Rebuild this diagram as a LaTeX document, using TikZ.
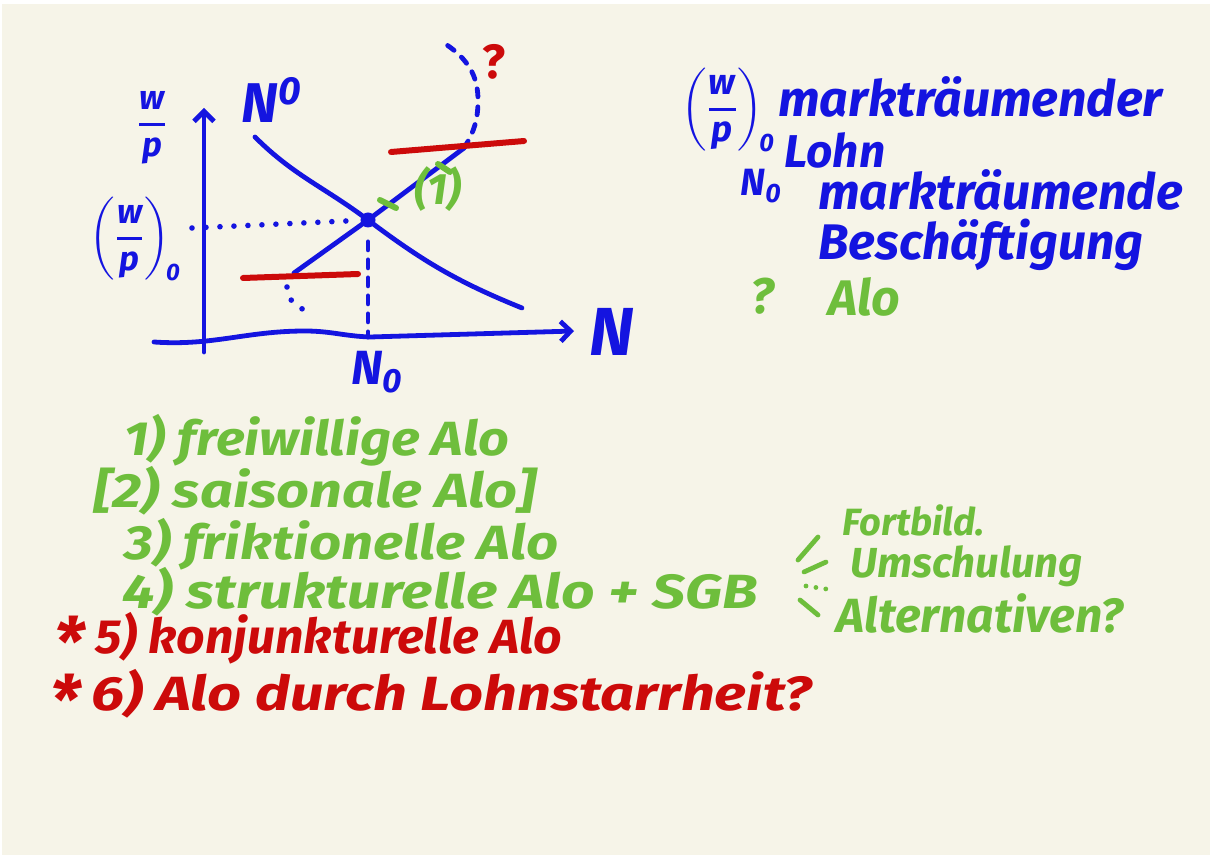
\documentclass[tikz,border=0pt]{standalone}
\usepackage{fontspec}
\usepackage{amsmath}
\setmainfont{Fira Sans}
\usetikzlibrary{arrows.meta,calc}
\definecolor{Pblue}{HTML}{1414E0}
\definecolor{Pgreen}{HTML}{6EBE3C}
\definecolor{Pred}{HTML}{CC0A0A}
\definecolor{Ppaper}{HTML}{F6F4E8}
\newcommand{\realwage}{\genfrac{}{}{1.6pt}{0}{\textit{w}}{\textit{p}}}
\newcommand{\bigstar}{\smash{\raisebox{-0.28em}{\fontsize{34}{26}\selectfont*}}}
\newcommand{\hand}[2]{\scalebox{#1}[1]{#2}}

\begin{document}
\begin{tikzpicture}[
  x=0.5pt, y=-0.5pt,
  font=\itshape\bfseries, >={Straight Barb[length=5pt,width=10pt]},
  pen/.style     ={line width=2.4pt, line cap=round, line join=round, draw=Pblue},
  bar/.style     ={line width=3pt, line cap=round, draw=Pred},
  dashline/.style={pen, dash pattern=on 4pt off 5pt},
  dotline/.style ={pen, line width=2.8pt, dash pattern=on 0pt off 7pt},
  tick/.style    ={line width=3pt, line cap=round, draw=Pgreen},
  fan/.style     ={line width=2.4pt, line cap=round, draw=Pgreen},
  axlab/.style   ={text=Pblue, inner sep=0pt, font=\itshape\bfseries\fontsize{17}{20}\selectfont},
  legend/.style  ={anchor=west, inner sep=0pt, text=Pblue, font=\itshape\bfseries\fontsize{25}{28}\selectfont},
  item/.style    ={anchor=west, inner sep=0pt, text=Pgreen, font=\itshape\bfseries\fontsize{24}{26}\selectfont},
  hot/.style     ={item, text=Pred},
]

% paper
\fill[white] (0,0) rectangle (1210,855);
\fill[Ppaper] (2,4) rectangle (1210,855);
\useasboundingbox (0,0) rectangle (1210,855);

% ── axes ─────────────────────────────────────────────
\coordinate (yb) at (204,352);
\coordinate (yt) at (204,108);
\coordinate (xa) at (154,342);
\coordinate (xk) at (305,331);
\coordinate (xc) at (370,337);
\coordinate (xe) at (574,331);
\draw[pen,->] (yb) -- (yt);
\draw[pen,->] (xa) to[out=-4,in=180] (xk) to[out=0,in=178] (xc) -- (xe);

\node[axlab] (wp) at (152,128) {$\realwage$};
\node[axlab, font=\itshape\bfseries\fontsize{34}{34}\selectfont] (nlab) at (612,332) {N};
\node[axlab, font=\itshape\bfseries\fontsize{28}{28}\selectfont] (ntop) at (272,100) {N\textsuperscript{0}};
\node[axlab, font=\itshape\bfseries\fontsize{24}{24}\selectfont] (nnull) at (377,372) {N$_{\textit{0}}$};
\node[axlab] (wp0) at (135,239) {$\left(\realwage\right)_{\!\textit{0}}$};

% ── equilibrium, demand and supply ───────────────────
\node[circle, fill=Pblue, inner sep=0pt, minimum size=7.5pt] (eq) at (368,220) {};

\coordinate (d0) at (255,137);
\coordinate (d1) at (522,308);
\draw[pen] (d0) to[out=-45,in=143] (eq.center) to[out=-37,in=158] (d1);

\coordinate (s0) at (294,273);
\coordinate (s1) at (464,148);
\coordinate (s2) at (478,100);
\coordinate (s3) at (447,45);
\draw[pen] (s0) -- (eq.center) -- (s1);
\draw[dashline] (s1) to[out=58,in=-90] (s2) to[out=90,in=-35] (s3);
\node[text=Pred, font=\bfseries\fontsize{24}{24}\selectfont] (huh) at (494,62) {?};

% guide lines to the axes
\coordinate (wq) at (192,228);
\draw[dotline, shorten >=7pt] (wq) -- (eq);
\draw[dashline, shorten <=7pt] (eq) -- (eq |- xc);

% red bars (upper / lower)
\coordinate (ru0) at (391,152);
\coordinate (ru1) at (524,141);
\coordinate (rl0) at (243,278);
\coordinate (rl1) at (358,274);
\draw[bar] (ru0) -- (ru1);
\draw[bar] (rl0) -- (rl1);
\coordinate (q0) at (287,287);
\coordinate (q1) at (313,313);
\draw[dotline] (q0) to[out=-90,in=165] (q1);

% (1) on the supply line
\draw[tick] (380,200) -- (396,208);
\draw[tick] (438,164) -- (450,172);
\node[text=Pgreen, inner sep=0pt, font=\itshape\bfseries\fontsize{22}{22}\selectfont] (one) at (438,189) {(1)};

% ── legend ───────────────────────────────────────────
\node[axlab, font=\itshape\bfseries\fontsize{18}{20}\selectfont] (lwp0) at (728,110)
  {$\left(\realwage\right)_{\!\textit{0}}$};
\node[legend] (lohn1) at (778,97) {markträumender};
\node[legend, font=\itshape\bfseries\fontsize{23}{26}\selectfont] (lohn2) at (784,150) {Lohn};
\node[legend, font=\itshape\bfseries\fontsize{19}{22}\selectfont] (lnull) at (740,186) {N$_{\textit{0}}$};
\node[legend] (besch1) at (818,190) {markträumende};
\node[legend] (besch2) at (818,245) {Beschäftigung};
\node[legend, text=Pgreen] (qm) at (750,296) {?};
\node[legend, text=Pgreen] (alo) at (828,297) {Alo};

% ── kinds of unemployment ────────────────────────────
\node[item] (i1) at (124,440) {\hand{1.12}{1) freiwillige Alo}};
\node[item] (i2) at (94,491) {\hand{1.2}{[2) saisonale Alo]}};
\node[item] (i3) at (124,544) {\hand{1.17}{3) friktionelle Alo}};
\node[item] (i4) at (122,592) {\hand{1.22}{4) strukturelle Alo + SGB}};
\node[item, font=\itshape\bfseries\fontsize{19}{20}\selectfont] (fort) at (842,520) {Fortbild.};
\node[item, font=\itshape\bfseries\fontsize{21}{22}\selectfont] (umsch) at (850,566) {Umschulung};
\node[item, font=\itshape\bfseries\fontsize{24}{26}\selectfont] (alt) at (836,613) {Alternativen?};
\draw[fan] ($(fort.west)+(-24,17)$) -- ($(fort.west)+(-44,40)$);
\draw[fan] ($(umsch.west)+(-46,6)$) -- ($(umsch.west)+(-24,-4)$);
\draw[fan, dash pattern=on 0pt off 5pt] ($(alt.west)+(-30,-27)$) -- ($(alt.west)+(-3,-23)$);
\draw[fan] ($(alt.west)+(-36,-13)$) -- ($(alt.west)+(-18,2)$);

\node[hot] (i5) at (54,638) {\bigstar\ \hand{1.04}{5) konjunkturelle Alo}};
\node[hot] (i6) at (50,694) {\bigstar\ \hand{1.24}{6) Alo durch Lohnstarrheit?}};

\end{tikzpicture}
\end{document}
